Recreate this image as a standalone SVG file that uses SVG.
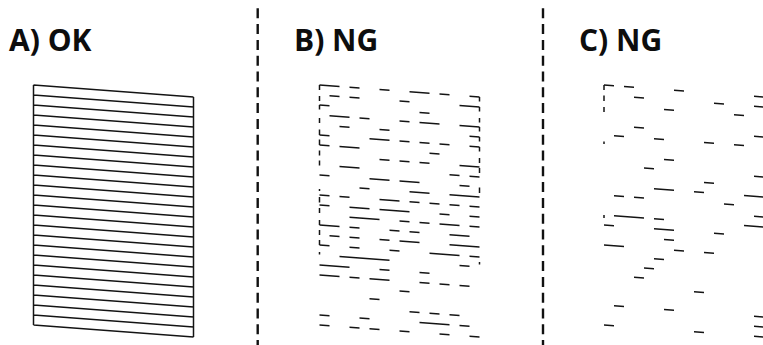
<svg xmlns="http://www.w3.org/2000/svg" width="763" height="345" viewBox="0 0 763 345">
<style>
.lbl{font-family:"Open Sans","Noto Sans","Liberation Sans",sans-serif;font-weight:700;font-size:30px;fill:#0d0d0d}
.pat{fill:none;stroke:#141414;stroke-width:1.5;stroke-linecap:butt}
.sep{fill:none;stroke:#111;stroke-width:2.4;stroke-dasharray:10 5.8}
</style>
<rect width="763" height="345" fill="#fff"/>
<g id="separators">
<line class="sep" x1="257.7" y1="8.3" x2="257.7" y2="345"/>
<line class="sep" x1="543" y1="8.3" x2="543" y2="345"/>
</g>
<g id="panelA">
<text class="lbl" x="9" y="50.5">A) OK</text>
<g transform="translate(33.5,85) skewY(4.289)">
<path class="pat" d="M0 0h160M0 10h160M0 20h160M0 30h160M0 40h160M0 50h160M0 60h160M0 70h160M0 80h160M0 90h160M0 100h160M0 110h160M0 120h160M0 130h160M0 140h160M0 150h160M0 160h160M0 170h160M0 180h160M0 190h160M0 200h160M0 210h160M0 220h160M0 230h160M0 240h160M0 0v240M160 0v240"/>
</g>
</g>
<g id="panelB">
<text class="lbl" x="294" y="50.5">B) NG</text>
<g transform="translate(319.5,85) skewY(4.289)">
<path class="pat" d="M0 0h20M30 0h10M60 0h10M90 0h20M120 0h10M150 0h10
M10 10h10M30 10h10M80 10h10M140 10h20
M0 20h10M100 20h10
M10 30h20M40 30h10M80 30h10M100 30h20M140 30h20
M20 40h10M60 40h10M150 40h10
M0 50h10M50 50h20M80 50h10M100 50h10M120 50h10M150 50h10
M0 60h10M20 60h20M110 60h10
M60 70h10M80 70h10M100 70h10M140 70h20
M20 80h20M130 80h10M150 80h10
M0 90h10M50 90h20M80 90h20M140 90h10
M40 100h10M90 100h20M130 100h30
M0 110h10M20 110h10M60 110h20M90 110h10M110 110h10M130 110h10M150 110h10
M0 120h10M30 120h20M60 120h30M120 120h10M150 120h10
M30 130h30M80 130h10M100 130h10M120 130h20M150 130h10
M0 140h20M30 140h10M70 140h10M90 140h10M130 140h20
M10 150h10M30 150h10M60 150h10M80 150h20M130 150h30
M0 160h10M30 160h10M70 160h10M110 160h30M150 160h10
M20 170h50M140 170h10
M0 180h30M60 180h10M100 180h10
M0 190h20M30 190h10M50 190h20M100 190h10M120 190h10M140 190h10
M80 200h10
M50 210h10
M90 220h10M110 220h10M130 220h10
M0 230h10M40 230h10M100 230h30M140 230h10
M0 240h10M30 240h10M50 240h10M80 240h10M120 240h10M150 240h10"/>
<path class="pat" d="M0 0v5M0 11v5M0 20v4.5M0 33v5M0 44.5v5.5M0 54.5v5.5M0 65.5v5M0 75.5v5M0 104v2M0 112v5.5M0 123v5M0 135v5M0 145v5M0 155v5M0 167v2.5"/>
<path class="pat" d="M160 0v4.5M160 10v4.5M160 21v4.5M160 30v4.5M160 40v4.5M160 50v4.5M160 61v5M160 71v5M160 90.5v5.5M160 165v2.5"/>
</g>
</g>
<g id="panelC">
<text class="lbl" x="579" y="50.5">C) NG</text>
<g transform="translate(604,85) skewY(4.289)">
<path class="pat" d="M0 0h10M20 0h10M70 0h10M150 0h10
M30 10h10M110 10h10M150 10h10
M60 20h10M130 20h10
M30 40h10M150 40h10
M10 50h10M50 50h10M100 50h10M130 50h10
M60 70h10
M40 80h10M150 80h10
M100 90h10
M50 100h20M90 100h10M140 100h20
M10 110h10M30 110h10M120 110h10
M150 120h10
M10 130h30M50 130h10M140 130h20
M0 140h10M50 140h20M110 140h10
M60 150h10
M0 160h20M70 160h10M100 160h10
M50 170h10
M40 180h10
M30 190h10
M90 200h10
M10 220h10M60 220h10M150 220h10
M150 230h10
M0 240h10M90 240h10M150 240h10"/>
<path class="pat" d="M0 0v5M0 10.5v5.5M0 22v5M0 56.5v2.5M0 130v3"/>
</g>
</g>
</svg>
